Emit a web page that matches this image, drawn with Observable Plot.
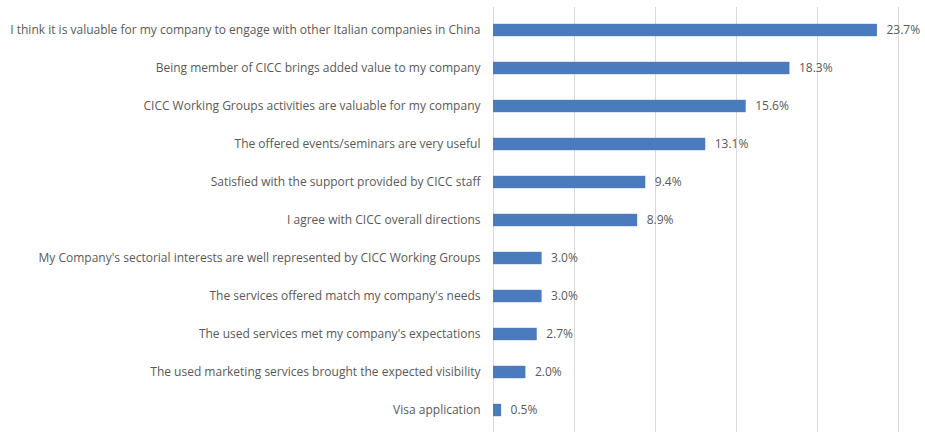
<!DOCTYPE html>
<html>
<head>
<meta charset="utf-8">
<script src="https://cdn.jsdelivr.net/npm/d3@7"></script>
<script src="https://cdn.jsdelivr.net/npm/@observablehq/plot@0.6"></script>
<style>
  html, body { margin: 0; padding: 0; background: #fff; }
  #chart { width: 925px; height: 432px; }
</style>
</head>
<body>
<div id="chart"></div>
<script>
const categories = [
  "I think it is valuable for my company to engage with other Italian companies in China",
  "Being member of CICC brings added value to my company",
  "CICC Working Groups activities are valuable for my company",
  "The offered events/seminars are very useful",
  "Satisfied with the support provided by CICC staff",
  "I agree with CICC overall directions",
  "My Company's sectorial interests are well represented by CICC Working Groups",
  "The services offered match my company's needs",
  "The used services met my company's expectations",
  "The used marketing services brought the expected visibility",
  "Visa application"
];
const values = [23.7, 18.3, 15.6, 13.1, 9.4, 8.9, 3.0, 3.0, 2.7, 2.0, 0.5];
const gridTicks = [0, 5, 10, 15, 20, 25];

const data = categories.map((c, i) => ({ category: c, value: values[i] }));

const chart = Plot.plot({
  width: 925,
  height: 432,
  marginLeft: 493,
  marginRight: 27,
  marginTop: 7,
  marginBottom: 0,
  style: { fontFamily: "'Open Sans', 'Liberation Sans', sans-serif", fontSize: "12px", color: "#595959", background: "#fff" },
  x: { domain: [0, 25], axis: null },
  y: { domain: categories, padding: 0, axis: null },
  marks: [
    Plot.gridX(gridTicks, { stroke: "#d9d9d9", strokeOpacity: 1, strokeWidth: 1 }),
    Plot.barX(data, { x: "value", y: "category", fill: "#4a7bbd", insetTop: 12.8, insetBottom: 12.8 }),
    Plot.axisY({ tickSize: 0, tickPadding: 13, fontSize: 12, fill: "#595959", label: null }),
    Plot.text(data, { x: "value", y: "category", text: d => d.value.toFixed(1) + "%", textAnchor: "start", dx: 9, fill: "#595959", fontSize: 12 })
  ]
});
document.getElementById("chart").appendChild(chart);
</script>
</body>
</html>
